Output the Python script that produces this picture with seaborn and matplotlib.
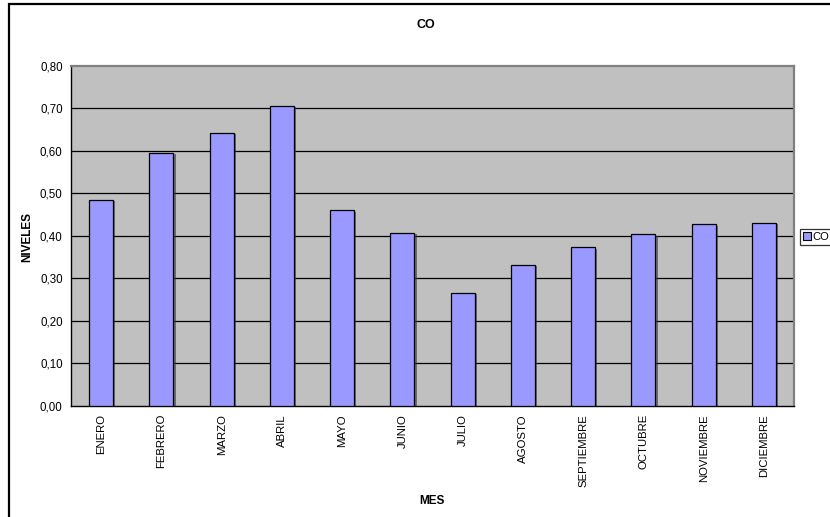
import matplotlib
matplotlib.use("Agg")
import matplotlib.pyplot as plt
import matplotlib.patheffects as pe
from matplotlib.patches import Patch, Rectangle
import seaborn as sns
import pandas as pd

# Monthly CO levels
meses = ["ENERO", "FEBRERO", "MARZO", "ABRIL", "MAYO", "JUNIO", "JULIO",
         "AGOSTO", "SEPTIEMBRE", "OCTUBRE", "NOVIEMBRE", "DICIEMBRE"]
co = [0.484, 0.595, 0.642, 0.706, 0.460, 0.407, 0.266,
      0.332, 0.373, 0.403, 0.427, 0.431]
y_ticks = [0.0, 0.1, 0.2, 0.3, 0.4, 0.5, 0.6, 0.7, 0.8]
y_tick_labels = ["0,00", "0,10", "0,20", "0,30", "0,40", "0,50", "0,60", "0,70", "0,80"]

df = pd.DataFrame({"MES": meses, "CO": co})

sns.set_theme(style="white")
plt.rcParams["font.family"] = ["Liberation Sans", "DejaVu Sans"]
plt.rcParams["text.color"] = "black"
plt.rcParams["axes.labelcolor"] = "black"

W, H = 830, 517
fig = plt.figure(figsize=(W / 100, H / 100), dpi=100)

# chart-area frame (left and top edges visible)
fig.patches.append(Rectangle((9 / W, -0.05), 1.2, (1 - 3.5 / H) + 0.05,
                             transform=fig.transFigure, fill=False,
                             edgecolor="black", linewidth=1.6))

ax = fig.add_axes([71 / W, (H - 405.7) / H, (794 - 71) / W, (405.7 - 65.7) / H])
ax.set_facecolor("#C0C0C0")

sns.barplot(data=df, x="MES", y="CO", color="#9999FF", width=0.4,
            edgecolor="black", linewidth=0.9, saturation=1, ax=ax, zorder=3)
for bar in ax.patches:
    bar.set_path_effects([pe.SimplePatchShadow(offset=(1.5, -1), shadow_rgbFace="#333333", alpha=0.6),
                          pe.Normal()])

ax.set_ylim(0, 0.8)
ax.set_xlim(-0.5, len(meses) - 0.5)
ax.set_yticks(y_ticks)
ax.set_yticklabels(y_tick_labels, fontsize=8.3)
for y in y_ticks[1:-1]:
    ax.axhline(y, color="black", linewidth=0.9, zorder=1)

ax.set_xticks(range(len(meses)))
ax.set_xticklabels(meses, rotation=90, fontsize=8.2)
ax.set_xticks([i - 0.5 for i in range(len(meses) + 1)], minor=True)
ax.tick_params(axis="x", which="major", length=0, pad=6)
ax.tick_params(axis="x", which="minor", length=5, width=0.9, color="black", direction="out")
ax.tick_params(axis="y", length=4, width=0.9, color="black", direction="out", pad=2)
ax.tick_params(axis="both", colors="black", labelcolor="black")

for side in ("left", "bottom"):
    ax.spines[side].set_color("black")
    ax.spines[side].set_linewidth(1.0)
for side in ("top", "right"):
    ax.spines[side].set_color("#808080")
    ax.spines[side].set_linewidth(1.6)

ax.set_xlabel("")
ax.set_ylabel("")

fig.text(426 / W, 1 - 25 / H, "CO", ha="center", va="center", fontsize=9,
         fontweight="bold", color="black")
fig.text(432 / W, 1 - 501 / H, "MES", ha="center", va="center", fontsize=8.5,
         fontweight="bold", color="black")
fig.text(27 / W, 1 - 237 / H, "NIVELES", ha="center", va="center", rotation=90,
         fontsize=8.5, fontweight="bold", color="black")

leg = fig.legend(handles=[Patch(facecolor="#9999FF", edgecolor="black", linewidth=0.8, label="CO")],
                 loc="center left", bbox_to_anchor=(800 / W, 1 - 237 / H),
                 frameon=True, fancybox=False, fontsize=8, handlelength=0.7, handleheight=0.7,
                 handletextpad=0.2, borderpad=0.25, borderaxespad=0)
leg.get_frame().set_edgecolor("black")
leg.get_frame().set_linewidth(0.9)

fig.savefig("out.png", dpi=100)
